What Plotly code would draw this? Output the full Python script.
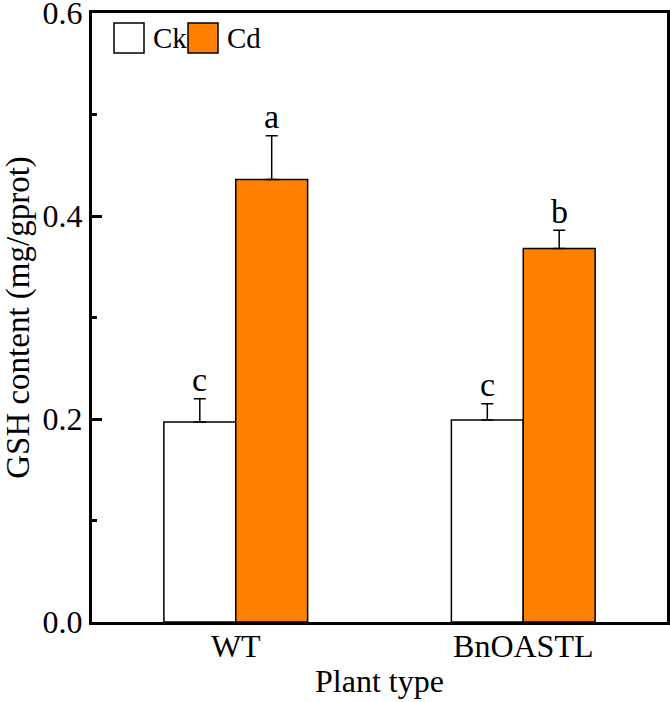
import plotly.graph_objects as go

categories = ["WT", "BnOASTL"]
ck_values = [0.197, 0.199]
ck_errors = [0.023, 0.016]
cd_values = [0.436, 0.368]
cd_errors = [0.043, 0.018]
ck_letters = ["c", "c"]
cd_letters = ["a", "b"]
y_ticks = [0.0, 0.2, 0.4, 0.6]

FONT = "Liberation Serif, Times New Roman, serif"
FS = 32

fig = go.Figure()
fig.add_trace(go.Bar(
    name="Ck", x=categories, y=ck_values,
    marker=dict(color="white", line=dict(color="black", width=1.5)),
    error_y=dict(type="data", array=ck_errors, symmetric=False, arrayminus=[0, 0],
                 color="black", thickness=1.5, width=6),
))
fig.add_trace(go.Bar(
    name="Cd", x=categories, y=cd_values,
    marker=dict(color="#FF8000", line=dict(color="black", width=1.5)),
    error_y=dict(type="data", array=cd_errors, symmetric=False, arrayminus=[0, 0],
                 color="black", thickness=1.5, width=6),
))

# significance letters
for i, c in enumerate(categories):
    fig.add_annotation(x=c, y=ck_values[i] + ck_errors[i], text=ck_letters[i],
                       xshift=-36, yshift=19, showarrow=False,
                       font=dict(family=FONT, size=34, color="black"))
    fig.add_annotation(x=c, y=cd_values[i] + cd_errors[i], text=cd_letters[i],
                       xshift=36, yshift=19, showarrow=False,
                       font=dict(family=FONT, size=34, color="black"))

# custom legend
legend_items = [("Ck", "white", 114), ("Cd", "#FF8000", 188)]
for name, color, x0 in legend_items:
    fig.add_shape(type="rect", xref="paper", yref="paper",
                  x0=(x0 - 92) / 575, x1=(x0 + 30 - 92) / 575,
                  y0=(622 - 53) / 609, y1=(622 - 23) / 609,
                  fillcolor=color, line=dict(color="black", width=1.5))
    fig.add_annotation(xref="paper", yref="paper", x=(x0 + 37 - 92) / 575,
                       y=(622 - 38) / 609, text=name, showarrow=False,
                       xanchor="left", yanchor="middle",
                       font=dict(family=FONT, size=29, color="black"))

fig.update_layout(
    width=670, height=702,
    margin=dict(l=92, r=3, t=13, b=80),
    paper_bgcolor="white", plot_bgcolor="white",
    barmode="group", bargap=0.5, bargroupgap=0,
    showlegend=False,
    font=dict(family=FONT, size=FS, color="black"),
)
fig.update_xaxes(
    showline=True, linewidth=3, linecolor="black", mirror=True, automargin=False,
    ticks="", showgrid=False, ticklabelstandoff=-6,
    title=dict(text="Plant type", font=dict(family=FONT, size=FS), standoff=7),
    tickfont=dict(family=FONT, size=FS),
)
fig.update_yaxes(
    range=[0, 0.6], tickvals=y_ticks, tickformat=".1f", ticklabeloverflow="allow",
    showline=True, linewidth=3, linecolor="black", mirror=True, automargin=False,
    ticks="inside", ticklen=10, tickwidth=2.5, tickcolor="black",
    minor=dict(ticks="inside", ticklen=5, tickwidth=2.5, dtick=0.1, tickcolor="black"),
    showgrid=False, zeroline=False,
    title=dict(text="GSH content (mg/gprot)", font=dict(family=FONT, size=33), standoff=10),
    tickfont=dict(family=FONT, size=FS),
)

fig.write_html("out.html")
